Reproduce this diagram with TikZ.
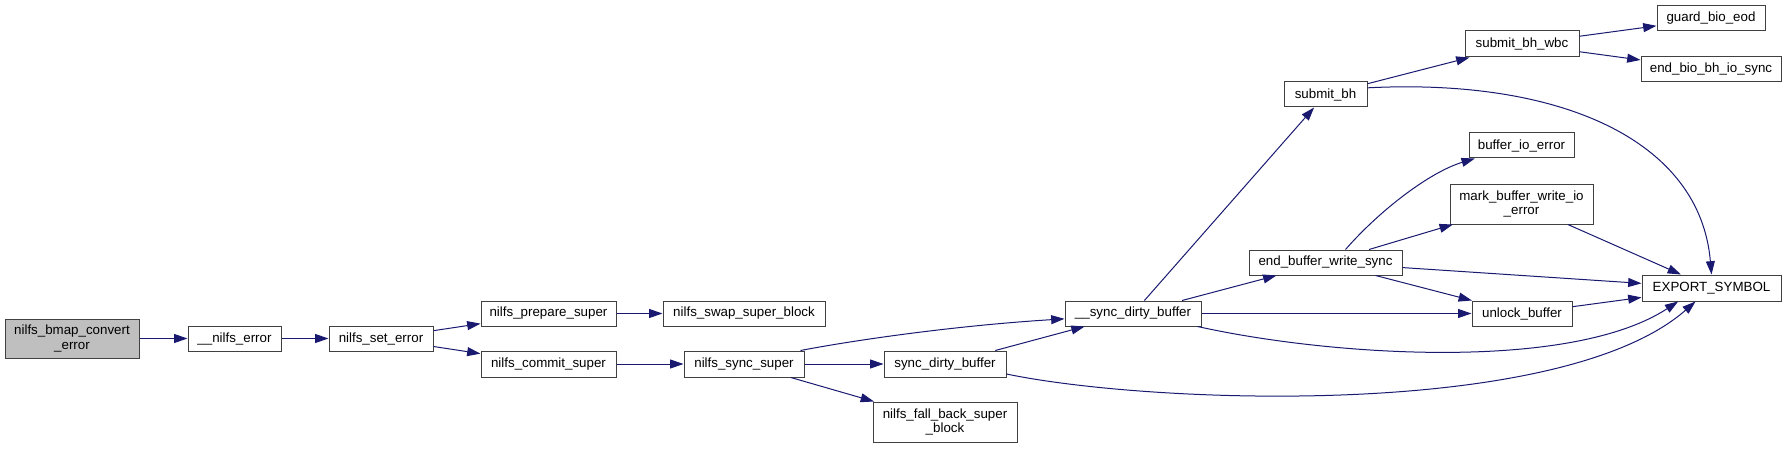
\documentclass[tikz,border=0pt]{standalone}
\usepackage{fontspec}
\setmainfont{Liberation Sans}
\usetikzlibrary{arrows.meta}
\definecolor{edgecol}{RGB}{25,25,112}
\definecolor{bordercol}{RGB}{64,64,64}
\definecolor{rootfill}{RGB}{191,191,191}
\begin{document}
\begin{tikzpicture}[x=0.75pt,y=-0.75pt,
  fn/.style={draw=bordercol, line width=0.75pt, fill=white, inner sep=0pt, align=center, font=\fontsize{10}{11}\selectfont},
  root/.style={fn, fill=rootfill},
  wh/.style 2 args={minimum width=#1*0.75pt, minimum height=#2*0.75pt},
  call/.style={draw=edgecol, line width=0.75pt, -{Triangle[length=10pt,width=6.7pt]}}]
\useasboundingbox (0,0) rectangle (1787,449);

\node[root, wh={134}{39}] (conv) at (72,338.5) {nilfs\_bmap\_convert\\\_error};
\node[fn, wh={93}{25}] (nerr) at (234.5,338.5) {\_\_nilfs\_error};
\node[fn, wh={104}{25}] (seterr) at (381,338.5) {nilfs\_set\_error};
\node[fn, wh={135}{25}] (prep) at (548.5,313.5) {nilfs\_prepare\_super};
\node[fn, wh={162}{25}] (swap) at (744,313.5) {nilfs\_swap\_super\_block};
\node[fn, wh={135}{26}] (commit) at (548.5,364) {nilfs\_commit\_super};
\node[fn, wh={120}{26}] (ssuper) at (744,364) {nilfs\_sync\_super};
\node[fn, wh={136}{25}] (usdb) at (1133,313.5) {\_\_sync\_dirty\_buffer};
\node[fn, wh={122}{26}] (sdb) at (945,364) {sync\_dirty\_buffer};
\node[fn, wh={144}{40}] (fallback) at (945,422) {nilfs\_fall\_back\_super\\\_block};
\node[fn, wh={83}{25}] (submitbh) at (1325.5,94.5) {submit\_bh};
\node[fn, wh={114}{26}] (wbc) at (1522,44) {submit\_bh\_wbc};
\node[fn, wh={108}{25}] (guard) at (1711,18.5) {guard\_bio\_eod};
\node[fn, wh={140}{25}] (endbio) at (1711,69.5) {end\_bio\_bh\_io\_sync};
\node[fn, wh={105}{25}] (bioerr) at (1521.5,145.5) {buffer\_io\_error};
\node[fn, wh={143}{40}] (mark) at (1521.5,204) {mark\_buffer\_write\_io\\\_error};
\node[fn, wh={153}{25}] (ebws) at (1325.5,262.5) {end\_buffer\_write\_sync};
\node[fn, wh={139}{26}] (export) at (1711.5,288) {EXPORT\_SYMBOL};
\node[fn, wh={100}{25}] (unlock) at (1522,313.5) {unlock\_buffer};

\draw[call] (conv) -- (nerr);
\draw[call] (nerr) -- (seterr);
\draw[call] (seterr) -- (prep);
\draw[call] (seterr) -- (commit);
\draw[call] (prep) -- (swap);
\draw[call] (commit) -- (ssuper);
\draw[call] ([xshift=-3pt]ssuper.north east) .. controls (850,341) and (950,326) .. ([yshift=-4pt]usdb.west);
\draw[call] (ssuper) -- (sdb);
\draw[call] (ssuper) -- (fallback);
\draw[call] (sdb) -- (usdb);
\draw[call] ([yshift=-7.5pt]sdb.east) .. controls (1150,404) and (1560,420) .. ([xshift=-12pt]export.south);
\draw[call] (usdb) -- (submitbh);
\draw[call] (usdb) -- (ebws);
\draw[call] (usdb) -- (unlock);
\draw[call] ([xshift=-3pt]usdb.south east) .. controls (1330,356) and (1570,372) .. ([xshift=-25pt]export.south);
\draw[call] (submitbh) -- (wbc);
\draw[call] ([yshift=5pt]submitbh.east) .. controls (1560,78) and (1700,140) .. (export.north);
\draw[call] (wbc) -- (guard);
\draw[call] (wbc) -- (endbio);
\draw[call] ([xshift=15pt]ebws.north) .. controls (1380,210) and (1430,172) .. ([xshift=-35pt]bioerr.south);
\draw[call] (ebws) -- (mark);
\draw[call] (ebws) -- (export);
\draw[call] (ebws) -- (unlock);
\draw[call] (mark) -- (export);
\draw[call] (unlock) -- (export);
\end{tikzpicture}
\end{document}
